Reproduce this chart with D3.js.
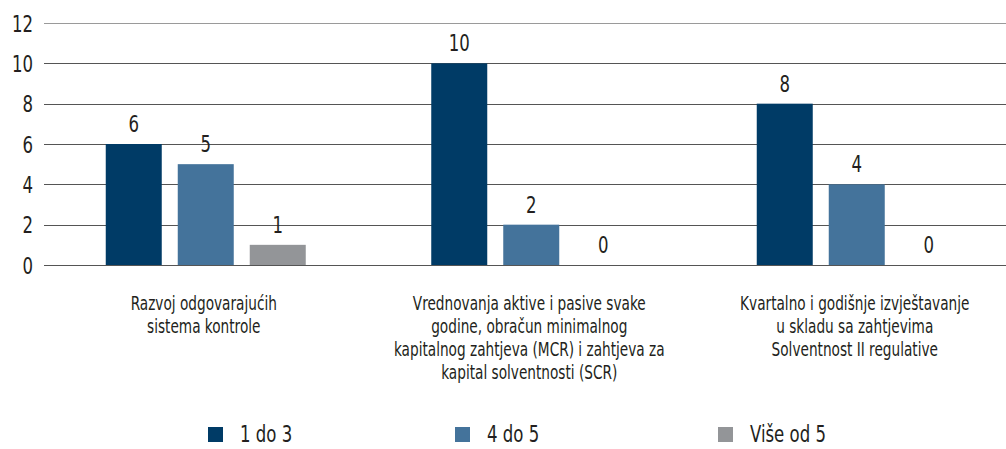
<!DOCTYPE html>
<html><head><meta charset="utf-8">
<script src="https://cdn.jsdelivr.net/npm/d3@7"></script>
<style>
html,body{margin:0;padding:0;background:#fff;}
svg{display:block;}
text{font-family:'Liberation Sans Narrow','DejaVu Sans Condensed',sans-serif;fill:#231f20;}
</style></head>
<body>
<script>
const categories = [
  ["Razvoj odgovarajućih","sistema kontrole"],
  ["Vrednovanja aktive i pasive svake","godine, obračun minimalnog","kapitalnog zahtjeva (MCR) i zahtjeva za","kapital solventnosti (SCR)"],
  ["Kvartalno i godišnje izvještavanje","u skladu sa zahtjevima","Solventnost II regulative"]
];
const seriesNames = ["1 do 3","4 do 5","Više od 5"];
const s1 = [6,10,8];
const s2 = [5,2,4];
const s3 = [1,0,0];
const yTicks = [0,2,4,6,8,10,12];
const colors = ["#003b66","#44739b","#939598"];

const W=1006,H=449;
const SX=0.8;
const svg=d3.select("body").append("svg").attr("width",W).attr("height",H);
const series=[s1,s2,s3];
const y=d3.scaleLinear().domain([0,12]).range([265,23]);
const x0=d3.scaleBand().domain(d3.range(categories.length)).range([43,1019.5]).padding(0);
const x1=d3.scaleBand().domain(d3.range(series.length)).range([0,200]).paddingInner(0.2222).paddingOuter(0);
const groupOff=(x0.bandwidth()-200)/2;

// grid
svg.append("g").selectAll("line").data(yTicks).join("line")
  .attr("x1",44).attr("x2",W).attr("y1",d=>Math.round(y(d))+0.5).attr("y2",d=>Math.round(y(d))+0.5)
  .attr("stroke",d=>d===12?"#9a9a9a":"#555").attr("stroke-width",1);

// y axis labels
const yAxis=d3.axisLeft(y).tickValues(yTicks).tickSize(0).tickPadding(0);
const ga=svg.append("g").attr("transform","translate(33,0)").call(yAxis);
ga.select(".domain").remove();
ga.selectAll(".tick text").attr("font-size",23).attr("fill","#231f20").attr("dy","0.35em")
  .attr("transform",`scale(${SX},1)`)
  .style("font-family","'Liberation Sans Narrow','DejaVu Sans Condensed',sans-serif");

// bars
const g=svg.append("g").selectAll("g").data(categories).join("g")
  .attr("transform",(d,i)=>`translate(${x0(i)+groupOff},0)`);
g.each(function(c,i){
  const sel=d3.select(this);
  series.forEach((s,j)=>{
    const v=s[i];
    if(v>0){
      sel.append("rect").attr("x",x1(j)).attr("width",x1.bandwidth())
        .attr("y",y(v)).attr("height",y(0)-y(v)).attr("fill",colors[j]);
    }
    sel.append("text").attr("transform",`translate(${x1(j)+x1.bandwidth()/2},${y(v)-12}) scale(${SX},1)`)
      .attr("text-anchor","middle").attr("font-size",23).text(v);
  });
  const t=sel.append("text").attr("text-anchor","middle").attr("font-size",19)
    .attr("transform",`translate(98,0) scale(${SX},1)`);
  c.forEach((line,k)=>{
    t.append("tspan").attr("x",0).attr("y",310+k*23).text(line);
  });
});

// legend
const legX=[208,455,718];
const lg=svg.append("g").selectAll("g").data(seriesNames).join("g")
  .attr("transform",(d,i)=>`translate(${legX[i]},0)`);
lg.append("rect").attr("x",0).attr("y",427).attr("width",15).attr("height",15).attr("fill",(d,i)=>colors[i]);
lg.append("text").attr("transform",`translate(32,442) scale(${SX},1)`).attr("font-size",23).text(d=>d);
</script>
</body></html>
